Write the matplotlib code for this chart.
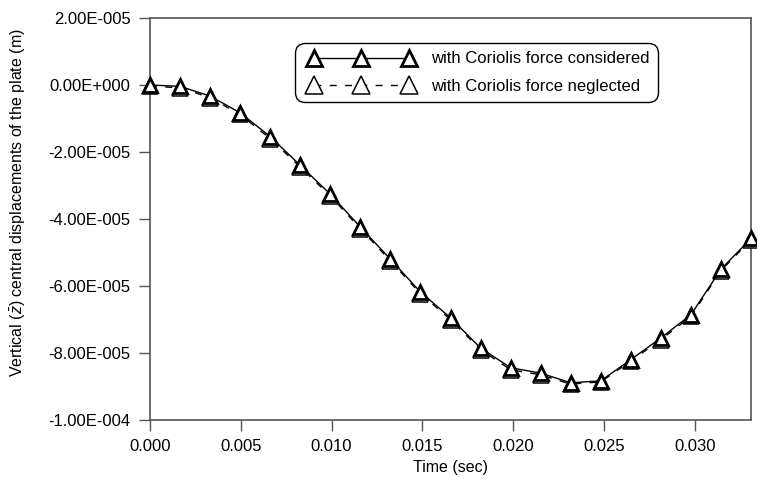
import matplotlib
matplotlib.use("Agg")
import matplotlib.pyplot as plt
from matplotlib.ticker import FuncFormatter, MultipleLocator
from matplotlib.legend_handler import HandlerLine2D
from matplotlib.lines import Line2D

# time steps (sec)
time = [0.0, 0.001655, 0.00331, 0.004965, 0.00662, 0.008275, 0.00993,
        0.011585, 0.01324, 0.014895, 0.01655, 0.018205, 0.01986, 0.021515,
        0.02317, 0.024825, 0.02648, 0.028135, 0.02979, 0.031445, 0.0331]

# central displacement of the plate, in units of 1e-5 m
disp_considered = [0.0, -0.04, -0.33, -0.83, -1.54, -2.40, -3.26, -4.24,
                   -5.20, -6.18, -6.95, -7.85, -8.44, -8.60, -8.89, -8.83,
                   -8.20, -7.55, -6.86, -5.50, -4.58]
disp_neglected = [-0.04, -0.08, -0.38, -0.88, -1.60, -2.45, -3.31, -4.29,
                  -5.25, -6.23, -7.00, -7.90, -8.50, -8.65, -8.93, -8.86,
                  -8.24, -7.60, -6.91, -5.54, -4.62]

labels = ["with Coriolis force considered", "with Coriolis force neglected"]

plt.rcParams["font.family"] = ["Liberation Sans", "DejaVu Sans"]
plt.rcParams["mathtext.fontset"] = "custom"
plt.rcParams["mathtext.rm"] = "Liberation Sans"
plt.rcParams["mathtext.it"] = "Liberation Sans:italic"

fig = plt.figure(figsize=(7.57, 4.79), dpi=100)
ax = fig.add_axes([150 / 757, 59 / 479, 601 / 757, 402 / 479])

scale = 1e-5
y1 = [v * scale for v in disp_considered]
y2 = [v * scale for v in disp_neglected]

ax.plot(time, y2, color="black", lw=1.0, dashes=(5, 6), marker="^",
        markersize=11, markerfacecolor="white", markeredgecolor="black",
        markeredgewidth=1.1, label=labels[1], clip_on=False, zorder=3)
ax.plot(time, y1, color="black", lw=1.0, ls="-", marker="^",
        markersize=10, markerfacecolor="white", markeredgecolor="black",
        markeredgewidth=2.0, label=labels[0], clip_on=False, zorder=4)

ax.set_xlim(0, 0.0331)
ax.set_ylim(-1e-4, 2e-5)
ax.xaxis.set_major_locator(MultipleLocator(0.005))
ax.yaxis.set_major_locator(MultipleLocator(2e-5))


def sci(v, pos):
    if abs(v) < 1e-12:
        v = 0.0
    mant, exp = f"{v:.2E}".split("E")
    e = int(exp)
    return f"{mant}E{'+' if e >= 0 else '-'}{abs(e):03d}"


ax.yaxis.set_major_formatter(FuncFormatter(sci))
ax.xaxis.set_major_formatter(FuncFormatter(lambda v, p: f"{v:.3f}"))

for s in ax.spines.values():
    s.set_color("#555555")
    s.set_linewidth(1.2)
ax.tick_params(direction="out", length=8, width=1.0, color="#555555",
               labelsize=12, pad=6)

ax.set_xlabel("Time (sec)", fontsize=11.5, labelpad=4)
ax.set_ylabel(r"Vertical ($\bar{z}$) central displacements of the plate (m)",
              fontsize=11.5)
ax.yaxis.set_label_coords(-0.203, 0.54)

handles, labs = ax.get_legend_handles_labels()
leg = ax.legend(handles[::-1], labs[::-1], loc="upper left",
                bbox_to_anchor=(0.2413, 0.9378), borderaxespad=0,
                handler_map={Line2D: HandlerLine2D(numpoints=3, marker_pad=0.62)},
                handlelength=6.95, fontsize=12, markerscale=1.15, fancybox=True,
                framealpha=1, edgecolor="black", labelspacing=0.75,
                borderpad=0.5, handletextpad=0.7)
leg.get_frame().set_linewidth(1.0)
leg.get_frame().set_boxstyle("round", pad=0, rounding_size=0.6)

fig.savefig("out.png", dpi=100)
